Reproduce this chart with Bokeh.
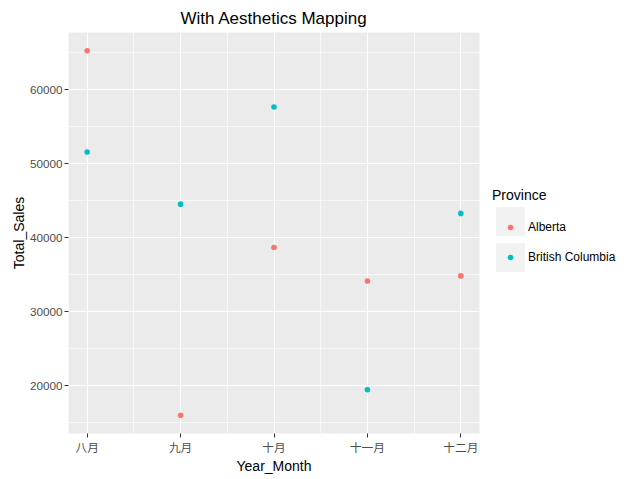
from bokeh.plotting import figure
from bokeh.layouts import row
from bokeh.models import (FactorRange, Range1d, SingleIntervalTicker, FixedTicker, Grid,
                          Legend, LegendItem, ColumnDataSource)
from bokeh.embed import file_html
from bokeh.resources import INLINE

months = ["八月", "九月", "十月", "十一月", "十二月"]
alberta = [65300, 16000, 38700, 34150, 34850]
british_columbia = [51600, 44550, 57700, 19450, 43300]
provinces = ["Alberta", "British Columbia"]
colors = ["#F8766D", "#00BFC4"]

y_lo = min(alberta + british_columbia)
y_hi = max(alberta + british_columbia)
pad = (y_hi - y_lo) * 0.05

p = figure(width=480, height=479,
           x_range=FactorRange(factors=months, range_padding=-0.3, range_padding_units="absolute"),
           y_range=Range1d(y_lo - pad, y_hi + pad),
           output_backend="svg", toolbar_location=None,
           min_border_left=68, min_border_right=1, min_border_top=32, min_border_bottom=46,
           background_fill_color="#EBEBEB", border_fill_color="white", outline_line_color=None,
           title="With Aesthetics Mapping")

p.title.align = "center"
p.title.text_font = "Liberation Sans"
p.title.text_font_size = "17px"
p.title.text_font_style = "normal"
p.title.text_color = "#000000"
p.title.standoff = 9

# grids
p.xgrid.grid_line_color = "white"
p.xgrid.grid_line_width = 1.1
p.add_layout(Grid(dimension=0, ticker=FixedTicker(ticks=[1, 2, 3, 4]),
                  grid_line_color="white", grid_line_width=0.6))
yt = SingleIntervalTicker(interval=10000, num_minor_ticks=2)
p.yaxis.ticker = yt
p.ygrid.ticker = yt
p.ygrid.grid_line_color = "white"
p.ygrid.grid_line_width = 1.1
p.ygrid.minor_grid_line_color = "white"
p.ygrid.minor_grid_line_width = 0.6

for ax in (p.xaxis[0], p.yaxis[0]):
    ax.axis_line_color = None
    ax.major_tick_in = 0
    ax.major_tick_out = 4
    ax.major_tick_line_color = "#333333"
    ax.major_tick_line_width = 1
    ax.minor_tick_line_color = None
    ax.major_label_text_color = "#4D4D4D"
    ax.major_label_text_font_size = "11.7px"
    ax.axis_label_text_font = "Liberation Sans"
    ax.axis_label_text_font_size = "14px"
    ax.axis_label_text_font_style = "normal"
    ax.axis_label_text_color = "#000000"

p.xaxis.major_label_text_font = "Noto Sans CJK SC"
p.yaxis.major_label_text_font = "Liberation Sans"
p.xaxis.axis_label = "Year_Month"
p.yaxis.axis_label = "Total_Sales"
p.xaxis.major_label_standoff = 0
p.yaxis.major_label_standoff = 2
p.xaxis.axis_label_standoff = 0
p.yaxis.axis_label_standoff = 0

# data points
for name, vals, col in zip(provinces, [alberta, british_columbia], colors):
    src = ColumnDataSource(dict(x=months, y=vals))
    p.scatter("x", "y", source=src, size=5.6, fill_color=col, line_color=col, line_width=0)

# legend panel (separate figure to the right; its frame is aligned with the main frame)
lg = figure(width=149, height=479, x_range=Range1d(0, 1), y_range=Range1d(0, 1),
            x_axis_type=None, y_axis_type=None, output_backend="svg", toolbar_location=None,
            min_border_left=0, min_border_right=0, min_border_top=0, min_border_bottom=0,
            outline_line_color=None, background_fill_color="white", border_fill_color="white")
lg.grid.visible = False

# legend proxies placed outside the visible range of the legend panel
key_bg = lg.rect(x=[-5], y=[-5], width=1, height=1, fill_color="#F2F2F2", line_color=None)
key_pts = [lg.scatter(x=[-5], y=[-5], size=6, fill_color=c, line_color=c, line_width=0)
           for c in colors]

legend_bg = Legend(items=[LegendItem(label=" ", renderers=[key_bg]),
                          LegendItem(label=" ", renderers=[key_bg])],
                   location=(12, 158), orientation="vertical",
                   glyph_width=36, glyph_height=36, spacing=-6, padding=0, margin=0,
                   label_standoff=0, label_text_font_size="12px",
                   title="Province", title_text_font="Liberation Sans",
                   title_text_font_size="14px", title_text_font_style="normal",
                   title_text_color="#000000", title_standoff=0,
                   background_fill_alpha=0, border_line_color=None)
lg.add_layout(legend_bg, "center")

legend = Legend(items=[LegendItem(label=n, renderers=[r]) for n, r in zip(provinces, key_pts)],
                location=(23, 168), orientation="vertical",
                glyph_width=14, glyph_height=14, label_height=16, spacing=14, padding=0, margin=0,
                label_standoff=11, label_text_font="Liberation Sans", label_text_font_size="12px",
                label_text_color="#000000",
                background_fill_alpha=0, border_line_color=None)
lg.add_layout(legend, "center")

layout = row(p, lg)
open("out.html", "w").write(file_html(layout, INLINE))
